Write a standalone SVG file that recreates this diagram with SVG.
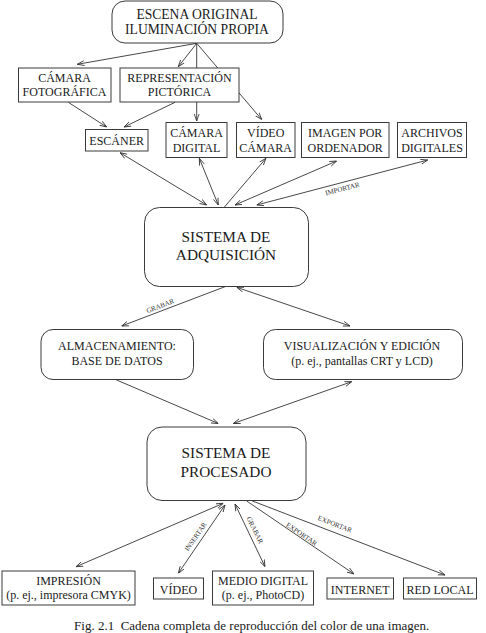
<svg xmlns="http://www.w3.org/2000/svg" width="486" height="633" viewBox="0 0 486 633">
<style>
  .box { fill: #fff; stroke: #3a3a3a; stroke-width: 1; }
  .t { font-family: "Liberation Serif", "Times New Roman", serif; fill: #1a1a1a; text-anchor: middle; }
  .s { font-size: 12px; }
  .m { font-size: 13.6px; }
  .b { font-size: 15.3px; }
  .lbl { font-family: "Liberation Serif", "Times New Roman", serif; font-size: 7px; fill: #333; text-anchor: middle; }
  .c { fill: none; stroke: #333; stroke-width: 0.9; }
  .e { marker-end: url(#ah); }
  .d { marker-start: url(#ah); marker-end: url(#ah); }
</style>
<defs>
  <marker id="ah" viewBox="0 0 10 10" refX="10" refY="5" markerWidth="7" markerHeight="7" orient="auto-start-reverse" markerUnits="userSpaceOnUse">
    <path d="M0,1.5 L10,5 L0,8.5" fill="none" stroke="#333" stroke-width="1.2"/>
  </marker>
</defs>
<rect width="486" height="633" fill="#fff"/>
<g id="connectors">
  <path class="c e" d="M196.7,43.3 L77.3,64.3"/>
  <path class="c e" d="M196.7,43.3 L178.3,66.7"/>
  <path class="c e" d="M196.7,43.3 L196.7,121"/>
  <path class="c e" d="M196.7,43.3 L261.7,119.5"/>
  <path class="c e" d="M68.3,102.3 L106.7,127"/>
  <path class="c e" d="M175,102.3 L124,127"/>
  <path class="c d" d="M120,152.7 L206.7,205"/>
  <path class="c d" d="M199.3,158.3 L218.3,205"/>
  <path class="c e" d="M224,207.5 L266,158.3"/>
  <path class="c d" d="M235,205 L336.7,161"/>
  <path class="c d" d="M256.7,205 L427.7,160"/>
  <text class="lbl" x="343" y="191" transform="rotate(-14.5 343 191)">IMPORTAR</text>
  <path class="c e" d="M225,286.7 L121.7,326"/>
  <text class="lbl" x="161" y="308" transform="rotate(-21 161 308)">GRABAR</text>
  <path class="c d" d="M236.7,287.3 L350,326"/>
  <path class="c e" d="M115,379.3 L218.3,423.5"/>
  <path class="c d" d="M233.3,423.5 L351.7,381.7"/>
  <path class="c d" d="M223.3,503.3 L76,566.7"/>
  <path class="c d" d="M225,505 L178.3,573.3"/>
  <text class="lbl" x="197.5" y="538" transform="rotate(-55 197.5 538)">INSERTAR</text>
  <path class="c d" d="M235,504 L265,566.7"/>
  <text class="lbl" x="252.8" y="531" transform="rotate(64 252.8 531)">GRABAR</text>
  <path class="c e" d="M246.7,501 L354,574"/>
  <text class="lbl" x="300.3" y="536" transform="rotate(34 300.3 536)">EXPORTAR</text>
  <path class="c e" d="M251.7,500.7 L445,575"/>
  <text class="lbl" x="334.1" y="526.3" transform="rotate(21 334.1 526.3)">EXPORTAR</text>
</g>
<g id="escena">
  <rect class="box" x="112" y="1" width="171" height="42" rx="13"/>
  <text class="t m" x="197" y="18.5">ESCENA ORIGINAL</text>
  <text class="t m" x="197" y="34">ILUMINACIÓN PROPIA</text>
</g>
<g id="camara-foto">
  <rect class="box" x="18.5" y="68" width="92.5" height="34"/>
  <text class="t s" x="64.5" y="81.5">CÁMARA</text>
  <text class="t s" x="64.5" y="96">FOTOGRÁFICA</text>
</g>
<g id="representacion">
  <rect class="box" x="120" y="68" width="119" height="34"/>
  <text class="t s" x="179.5" y="81.5">REPRESENTACIÓN</text>
  <text class="t s" x="179.5" y="96">PICTÓRICA</text>
</g>
<g id="escaner">
  <rect class="box" x="85.5" y="129.5" width="62.5" height="21.5"/>
  <text class="t s" x="116.7" y="145">ESCÁNER</text>
</g>
<g id="camara-digital">
  <rect class="box" x="166" y="122.5" width="61" height="35"/>
  <text class="t s" x="196.5" y="137">CÁMARA</text>
  <text class="t s" x="196.5" y="151.5">DIGITAL</text>
</g>
<g id="video-camara">
  <rect class="box" x="236.5" y="122.5" width="58.5" height="35"/>
  <text class="t s" x="265.7" y="137">VÍDEO</text>
  <text class="t s" x="265.7" y="151.5">CÁMARA</text>
</g>
<g id="imagen-ordenador">
  <rect class="box" x="301.5" y="122.5" width="87.5" height="35"/>
  <text class="t s" x="345.2" y="137">IMAGEN POR</text>
  <text class="t s" x="345.2" y="151.5">ORDENADOR</text>
</g>
<g id="archivos">
  <rect class="box" x="397.5" y="122.5" width="69" height="35"/>
  <text class="t s" x="432" y="137">ARCHIVOS</text>
  <text class="t s" x="432" y="151.5">DIGITALES</text>
</g>
<g id="adquisicion">
  <rect class="box" x="144.5" y="207.5" width="164" height="79" rx="15"/>
  <text class="t b" x="226" y="241.5">SISTEMA DE</text>
  <text class="t b" x="226" y="260">ADQUISICIÓN</text>
</g>
<g id="almacenamiento">
  <rect class="box" x="41" y="329.5" width="152.5" height="50" rx="12"/>
  <text class="t s" x="117" y="350">ALMACENAMIENTO:</text>
  <text class="t s" x="117" y="365">BASE DE DATOS</text>
</g>
<g id="visualizacion">
  <rect class="box" x="263.5" y="329.5" width="199" height="50" rx="12"/>
  <text class="t s" x="362" y="350">VISUALIZACIÓN Y EDICIÓN</text>
  <text class="t s" x="362" y="365">(p. ej., pantallas CRT y LCD)</text>
</g>
<g id="procesado">
  <rect class="box" x="147" y="427" width="159" height="73.5" rx="15"/>
  <text class="t b" x="226" y="458.3">SISTEMA DE</text>
  <text class="t b" x="226" y="476.7">PROCESADO</text>
</g>
<g id="impresion">
  <rect class="box" x="2" y="571" width="133" height="34"/>
  <text class="t s" x="68.5" y="585">IMPRESIÓN</text>
  <text class="t s" x="68.5" y="598.5">(p. ej., impresora CMYK)</text>
</g>
<g id="video">
  <rect class="box" x="153.5" y="578" width="50" height="21"/>
  <text class="t s" x="178.5" y="593.5">VÍDEO</text>
</g>
<g id="medio-digital">
  <rect class="box" x="212.5" y="571" width="101" height="34"/>
  <text class="t s" x="263" y="585">MEDIO DIGITAL</text>
  <text class="t s" x="263" y="598.5">(p. ej., PhotoCD)</text>
</g>
<g id="internet">
  <rect class="box" x="327" y="578" width="66.5" height="21"/>
  <text class="t s" x="360.2" y="593.5">INTERNET</text>
</g>
<g id="red-local">
  <rect class="box" x="403.5" y="578" width="73" height="21"/>
  <text class="t s" x="440" y="593.5">RED LOCAL</text>
</g>
<text class="t" style="font-size:13px" x="251.7" y="630">Fig. 2.1 &#160;Cadena completa de reproducción del color de una imagen.</text>
</svg>
